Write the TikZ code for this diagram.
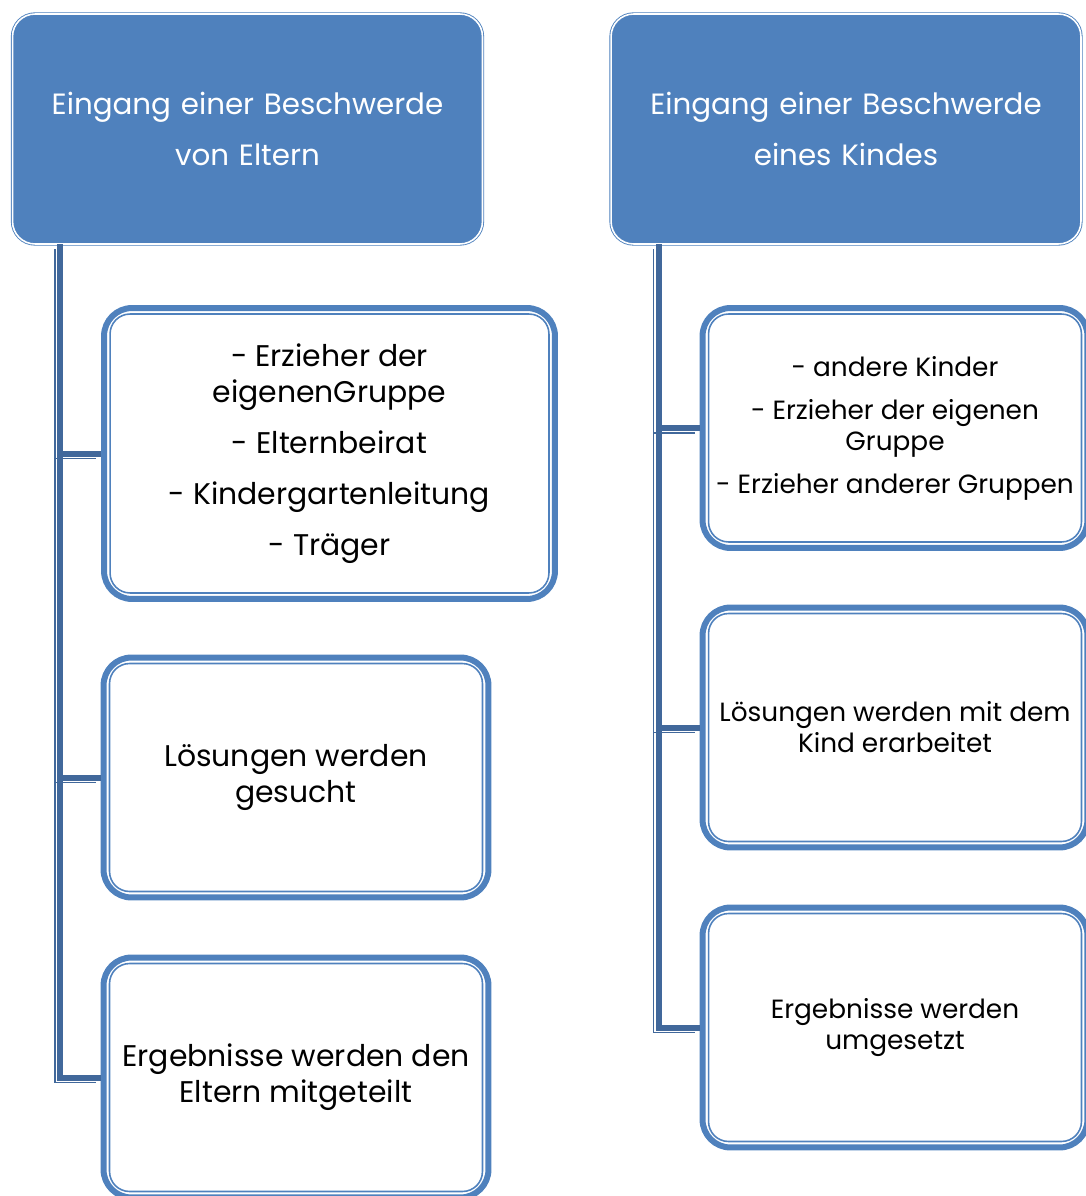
\documentclass[tikz,border=0pt]{standalone}
\usepackage{fontspec}
\setmainfont{Poppins}
\usepackage{tikz}
\usetikzlibrary{positioning}
\definecolor{boxblue}{HTML}{4F81BD}
\definecolor{linkblue}{HTML}{41689B}

\tikzset{
  head/.style={rectangle, rounded corners=0.45cm, fill=boxblue, draw=boxblue,
    double=white, double distance=0.9pt, line width=0.5pt,
    minimum width=9.4cm, minimum height=4.6cm, text width=9cm, align=center,
    text=white, font=\fontsize{16.7}{29}\selectfont},
  stage/.style={rectangle, rounded corners=0.56cm, draw=boxblue, line width=0.12cm,
    minimum width=7.7cm, minimum height=4.8cm, align=center,
    font=\fontsize{17}{20.5}\selectfont},
  stagesmall/.style={stage, font=\fontsize{15}{17.6}\selectfont},
  frame/.style={draw=boxblue, line width=0.9pt, rounded corners=0.4cm},
  link/.style={draw=linkblue, line width=0.12cm},
  linkshade/.style={draw=linkblue, line width=0.9pt}
}

\begin{document}
\begin{tikzpicture}[x=0.02cm, y=-0.02cm]
 \useasboundingbox (0,0) rectangle (1085,1196);

 %heads
 \node[head] (p1) at (247.5,129) {Eingang einer Beschwerde\\von Eltern};
 \node[head] (p2) at (846,129) {Eingang einer Beschwerde\\eines Kindes};

 %left stages
 \node[stage, minimum width=9.02cm, minimum height=5.82cm] (c1) at (329.5,453.5)
   {- Erzieher der\\eigenenGruppe\\[8.5pt]- Elternbeirat\\[8.5pt]- Kindergartenleitung\\[8.5pt]- Träger};
 \node[stage] (c2) at (296,777.5) {Lösungen werden\\gesucht};
 \node[stage] (c3) at (296,1077.5) {Ergebnisse werden den\\Eltern mitgeteilt};

 %right stages
 \node[stagesmall] (d1) at (895,428) {- andere Kinder\\[6.9pt]- Erzieher der eigenen\\Gruppe\\[6.9pt]- Erzieher anderer Gruppen};
 \node[stagesmall] (d2) at (895,727.5) {Lösungen werden mit dem\\Kind erarbeitet};
 \node[stagesmall] (d3) at (895,1027.5) {Ergebnisse werden\\umgesetzt};

 %inner frames
 \foreach \n in {c1,c2,c3,d1,d2,d3}
   \draw[frame] ([shift={(0.18cm,-0.18cm)}]\n.north west) rectangle ([shift={(-0.18cm,0.18cm)}]\n.south east);

 %links
 \begin{scope}[transform canvas={shift={(-0.1cm,-0.1cm)}}]
  \foreach \p/\c in {p1/c1,p1/c2,p1/c3,p2/d1,p2/d2,p2/d3}
    \draw[linkshade] ([xshift=0.96cm]\p.south west) |- (\c.west);
 \end{scope}
 \foreach \p/\c in {p1/c1,p1/c2,p1/c3,p2/d1,p2/d2,p2/d3}
   \draw[link] ([xshift=0.96cm]\p.south west) |- (\c.west);

\end{tikzpicture}
\end{document}
